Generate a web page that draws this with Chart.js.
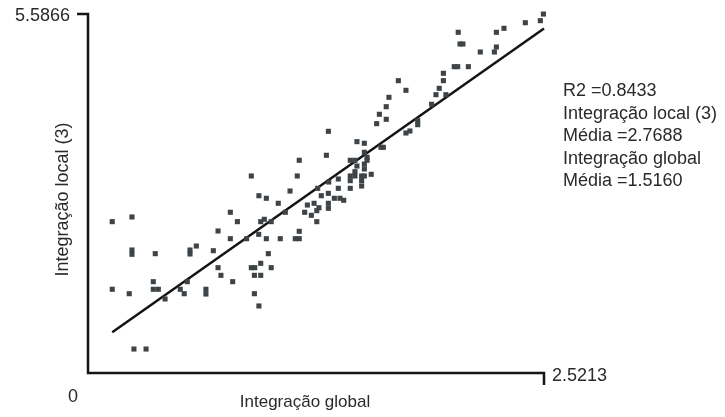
<!DOCTYPE html>
<html>
<head>
<meta charset="utf-8">
<script src="https://cdn.jsdelivr.net/npm/chart.js@4/dist/chart.umd.min.js"></script>
<style>
  html, body { margin:0; padding:0; background:#fff; }
  #scatter { display:block; }
</style>
</head>
<body>
<canvas id="scatter" width="725" height="417"></canvas>
<script>
// dados (integração global x integração local R3)
const xIntGlobal = [
  0.134,0.243,0.787,0.826,0.719,0.787,0.243,0.243,0.372,0.564,
  0.564,0.599,0.693,0.719,0.735,0.800,0.361,0.134,0.228,0.361,
  0.389,0.426,0.510,0.549,0.532,0.652,0.652,0.254,0.321,1.487,
  1.528,1.318,1.168,1.450,1.476,1.528,1.543,1.543,1.487,1.528,
  1.528,1.476,1.450,1.450,1.476,1.513,1.528,1.566,1.513,0.903,
  1.157,1.384,1.331,1.270,1.384,1.450,1.513,1.117,0.945,0.986,
  1.290,1.329,1.362,1.393,1.414,1.052,1.213,1.250,1.329,1.329,
  1.277,1.265,1.091,1.198,1.235,0.955,0.975,1.013,1.265,0.944,
  1.168,0.877,0.986,1.063,1.146,1.168,0.997,0.955,0.903,0.922,
  1.013,0.920,0.955,0.920,0.945,2.025,2.044,2.103,1.965,1.965,
  1.716,1.758,1.942,1.924,1.979,1.664,1.649,1.900,1.611,1.649,
  1.596,1.823,1.823,1.758,1.780,1.620,1.633,2.518,2.501,2.418,
  2.300,2.258,2.047,2.057,2.073,2.258,2.247,2.169,1.329
];
const yIntLocal = [
  2.355,2.428,2.501,2.355,2.210,2.090,1.914,1.847,1.857,1.914,
  1.852,1.976,1.903,1.639,1.520,1.421,1.421,1.303,1.234,1.303,
  1.303,1.152,1.303,1.421,1.234,1.303,1.229,0.373,0.373,3.600,
  3.575,3.388,3.310,3.310,3.310,3.435,3.357,3.310,3.221,3.252,
  3.175,3.133,3.066,2.993,3.066,3.066,3.066,3.092,2.993,3.066,
  3.066,3.019,2.972,2.874,2.874,2.874,2.910,2.832,2.759,2.719,
  2.759,2.796,2.719,2.719,2.688,2.641,2.614,2.641,2.641,2.563,
  2.572,2.526,2.501,2.501,2.454,2.355,2.392,2.355,2.355,2.158,
  2.205,2.090,2.090,2.090,2.090,2.090,1.857,1.707,1.639,1.639,
  1.639,1.520,1.520,1.234,1.043,4.767,4.767,4.767,4.664,4.549,
  4.549,4.399,4.430,4.331,4.331,4.290,4.144,4.182,4.026,3.948,
  3.880,3.926,3.864,3.735,3.766,3.512,3.512,5.586,5.483,5.451,
  5.364,5.302,5.302,5.120,5.120,5.073,4.995,4.995,3.761
];
// reta de regressão (extremos)
const trendX = [0.134, 2.5213];
const trendY = [0.633, 5.36];

const xMax = 2.5213, yMax = 5.5866;
const xTitle = 'Integração global';
const yTitle = 'Integração local (3)';
const originLabel = '0';
const statsLines = ['R2 =0.8433', 'Integração local (3)', 'Média =2.7688', 'Integração global', 'Média =1.5160'];

const FONT = '"Liberation Sans", Arial, sans-serif';
const INK = '#2a2a2a';

const pts = xIntGlobal.map((x, i) => ({ x, y: yIntLocal[i] }));
const trend = trendX.map((x, i) => ({ x, y: trendY[i] }));

// eixos e textos desenhados à mão por cima
const axesPlugin = {
  id: 'axesPlugin',
  afterDraw(chart){
    const ctx = chart.ctx;
    const xs = chart.scales.x, ys = chart.scales.y;
    const L = xs.getPixelForValue(0), R = xs.getPixelForValue(xMax);
    const B = ys.getPixelForValue(0), T = ys.getPixelForValue(yMax);
    ctx.save();
    ctx.strokeStyle = '#151515';
    ctx.lineWidth = 2.5;
    ctx.beginPath();
    ctx.moveTo(L - 11, T); ctx.lineTo(L, T);
    ctx.lineTo(L, B); ctx.lineTo(R, B);
    ctx.lineTo(R, B + 12);
    ctx.stroke();

    ctx.fillStyle = INK;
    ctx.font = '18px ' + FONT;
    ctx.textBaseline = 'middle';
    ctx.textAlign = 'right';
    ctx.fillText(yMax.toFixed(4), L - 18, T + 2);
    ctx.textAlign = 'left';
    ctx.fillText(xMax.toFixed(4), R + 8, B + 3);
    ctx.textAlign = 'center';
    ctx.fillText(originLabel, L - 15, B + 24);

    ctx.textBaseline = 'alphabetic';
    ctx.font = '17px ' + FONT;
    ctx.fillText(xTitle, (L + R) / 2 - 11, B + 34);
    ctx.save();
    ctx.font = '18px ' + FONT;
    ctx.translate(L - 20, (T + B) / 2 + 6);
    ctx.rotate(-Math.PI / 2);
    ctx.fillText(yTitle, 0, 0);
    ctx.restore();

    ctx.font = '18px ' + FONT;
    ctx.textAlign = 'left';
    statsLines.forEach((s, i) => ctx.fillText(s, 563, 96 + i * 22.5));
    ctx.restore();
  }
};

new Chart(document.getElementById('scatter'), {
  type: 'scatter',
  data: {
    datasets: [
      {
        data: pts,
        pointStyle: 'rect',
        pointRadius: 3.6,
        pointHoverRadius: 3.6,
        borderWidth: 0,
        backgroundColor: '#3d4346',
        clip: false
      },
      {
        type: 'line',
        data: trend,
        borderColor: '#141414',
        borderWidth: 2.5,
        pointRadius: 0,
        fill: false,
        clip: false
      }
    ]
  },
  options: {
    responsive: false,
    animation: false,
    events: [],
    layout: { padding: { left: 88, right: 181, top: 14, bottom: 44 } },
    plugins: { legend: { display: false }, tooltip: { enabled: false } },
    scales: {
      x: { type: 'linear', min: 0, max: xMax, display: false },
      y: { type: 'linear', min: 0, max: yMax, display: false }
    }
  },
  plugins: [axesPlugin]
});
</script>
</body>
</html>
